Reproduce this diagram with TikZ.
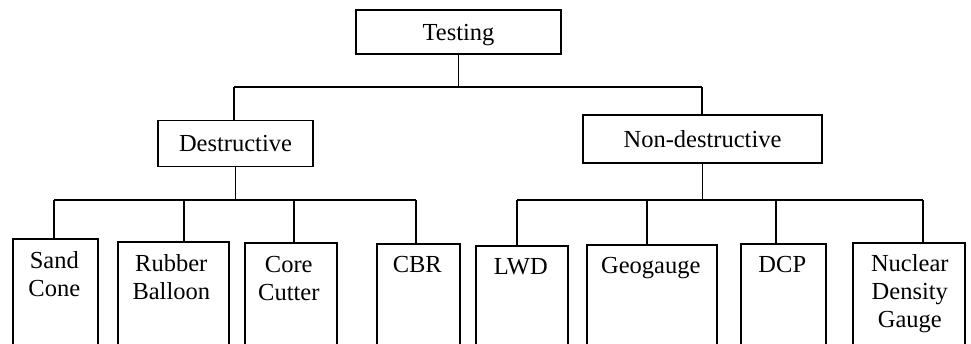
\documentclass[tikz,border=0pt]{standalone}
\usepackage{fontspec}
\setmainfont{Liberation Serif}
\usetikzlibrary{calc}
\begin{document}
\begin{tikzpicture}[x=1pt,y=-1pt,
  box/.style={draw, line width=1.6pt, inner sep=0pt, font=\fontsize{24.5}{28}\selectfont, text height=16pt, text depth=0pt},
  leafbox/.style={draw, line width=1.6pt, inner sep=0pt, anchor=north west, minimum height=150pt},
  lbl/.style={font=\fontsize{24.5}{28}\selectfont, align=center, inner sep=0pt, anchor=base},
  conn/.style={line width=1.6pt}]
\useasboundingbox (0,0) rectangle (971,343);
\clip (0,0) rectangle (971,343);
% top levels
\node[box, minimum width=205pt, minimum height=44pt] (test) at (458.5,32) {Testing};
\node[box, minimum width=155pt, minimum height=46pt] (dest) at (235.5,143.5) {Destructive};
\node[box, minimum width=239pt, minimum height=48pt] (nond) at (702.5,139) {Non-destructive};
% leaves
\node[leafbox, minimum width=85pt]  (sand) at (12,238) {};
\node[leafbox, minimum width=111pt] (rub)  at (117,241) {};
\node[leafbox, minimum width=92pt]  (core) at (244,242) {};
\node[leafbox, minimum width=83pt]  (cbr)  at (376,243) {};
\node[leafbox, minimum width=92pt]  (lwd)  at (475,245) {};
\node[leafbox, minimum width=130pt] (geo)  at (586,244) {};
\node[leafbox, minimum width=85pt]  (dcp)  at (740,243) {};
\node[leafbox, minimum width=112pt] (nuc)  at (852,242) {};
% leaf labels (anchor = baseline of last line)
\node[lbl] (tsand) at ($(sand.north)+(-1,58)$) {Sand\\Cone};
\node[lbl] (trub)  at ($(rub.north)+(-2,58)$) {Rubber\\Balloon};
\node[lbl] (tcore) at ($(core.north)+(-2,58)$) {Core\\Cutter};
\node[lbl] (tcbr)  at ($(cbr.north)+(-1,29.5)$) {CBR};
\node[lbl] (tlwd)  at ($(lwd.north)+(-1,29)$) {LWD};
\node[lbl] (tgeo)  at ($(geo.north)+(-1,29)$) {Geogauge};
\node[lbl] (tdcp)  at ($(dcp.north)+(-1,29.5)$) {DCP};
\node[lbl] (tnuc)  at ($(nuc.north)+(1,85)$) {Nuclear\\Density\\Gauge};
% level 1 connectors
\coordinate (tl) at (234,87);
\coordinate (tr) at (702,87);
\draw[conn] (tl) -- (tr);
\draw[conn] (test.south) -- (test.south |- tl);
\draw[conn] (tl) -- (tl |- dest.north);
\draw[conn] (tr) -- (tr |- nond.north);
% destructive connectors
\coordinate (ds) at (54,200);
\coordinate (dr) at (184,200);
\coordinate (dc) at (294,200);
\coordinate (db) at (416,200);
\draw[conn] (ds) -- (db);
\draw[conn] (dest.south) -- (dest.south |- ds);
\draw[conn] (ds) -- (ds |- sand.north);
\draw[conn] (dr) -- (dr |- rub.north);
\draw[conn] (dc) -- (dc |- core.north);
\draw[conn] (db) -- (db |- cbr.north);
% non-destructive connectors
\coordinate (nl) at (517,200);
\coordinate (ng) at (647,200);
\coordinate (nd) at (776,200);
\coordinate (nn) at (923,200);
\draw[conn] (nl) -- (nn);
\draw[conn] (nond.south) -- (nond.south |- nl);
\draw[conn] (nl) -- (nl |- lwd.north);
\draw[conn] (ng) -- (ng |- geo.north);
\draw[conn] (nd) -- (nd |- dcp.north);
\draw[conn] (nn) -- (nn |- nuc.north);
\end{tikzpicture}
\end{document}
